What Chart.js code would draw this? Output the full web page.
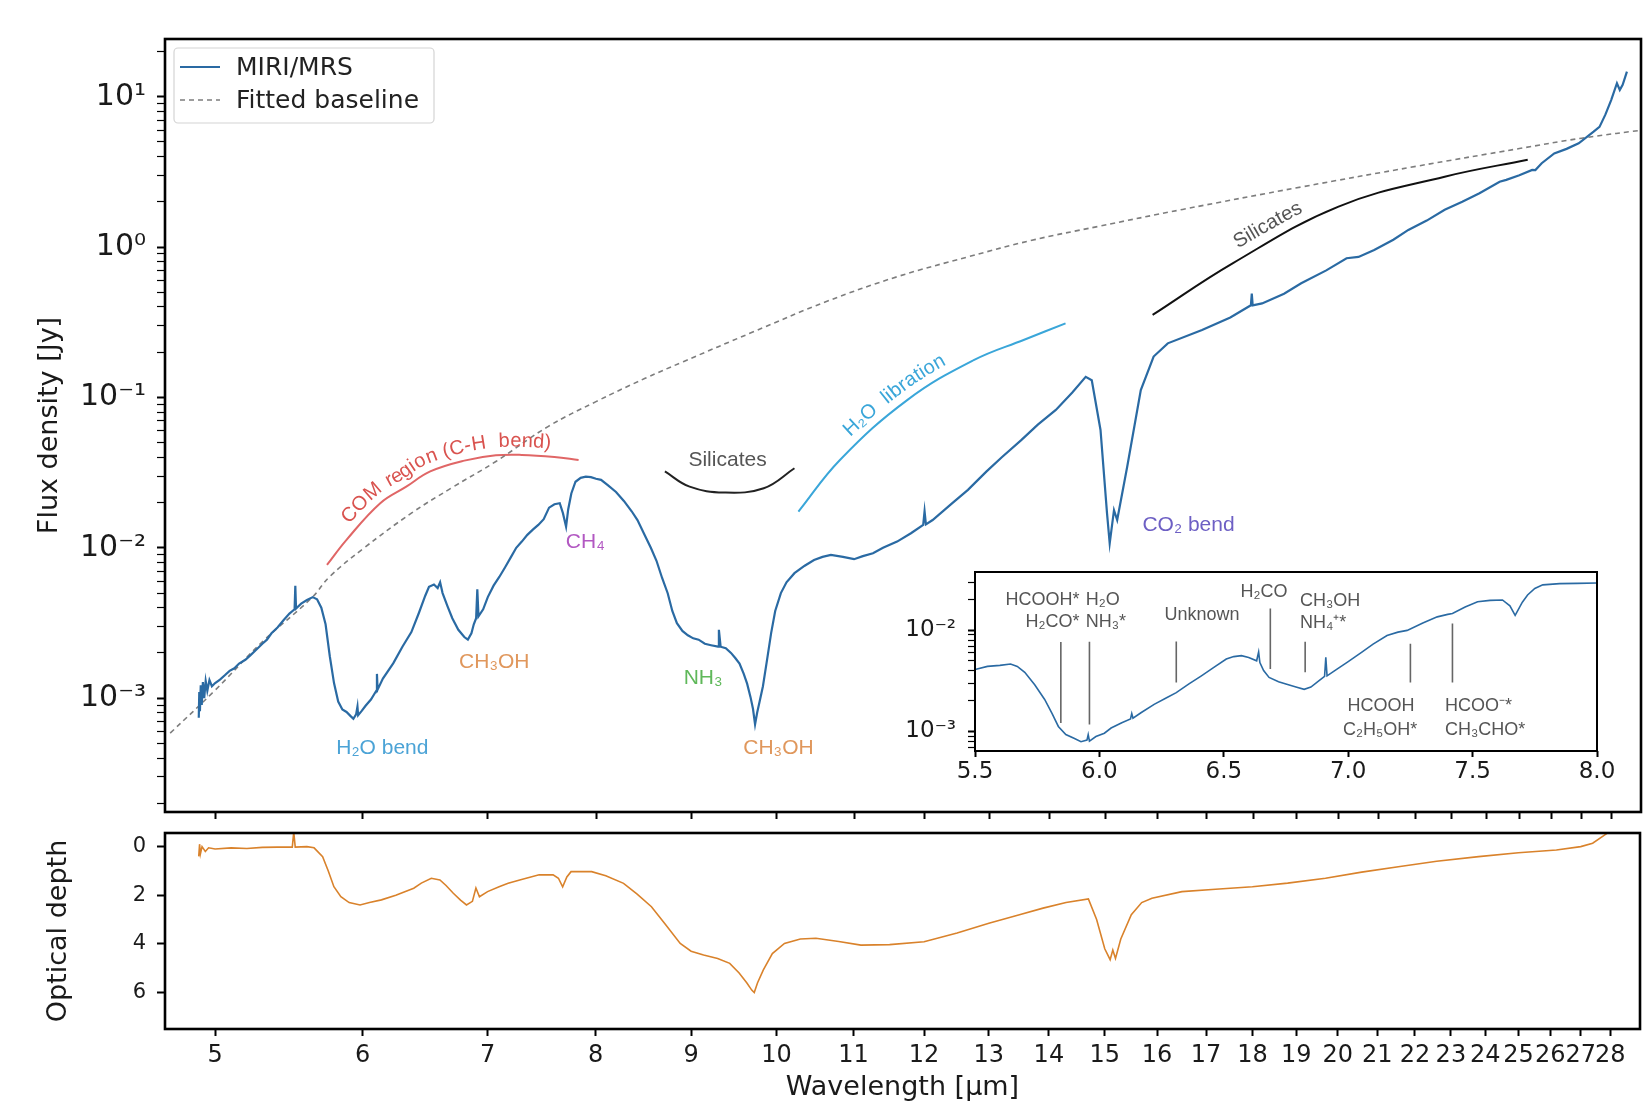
<!DOCTYPE html>
<html lang="en">
<head>
<meta charset="utf-8">
<title>MIRI/MRS spectrum</title>
<script src="https://cdn.jsdelivr.net/npm/chart.js@4.4.1/dist/chart.umd.min.js"></script>
<style>
    html, body { margin: 0; padding: 0; background: #fff; }
    #page { position: relative; width: 1647px; height: 1101px; overflow: hidden; }
    #page canvas { position: absolute; }
    #mainChart { left: 0; top: 0; }
    #depthChart { left: 0; top: 830px; }
    #insetChart { left: 860px; top: 556px; }
</style>
</head>
<body>
<div id="page">
    <canvas id="mainChart" width="1647" height="830"></canvas>
    <canvas id="depthChart" width="1647" height="271"></canvas>
    <canvas id="insetChart" width="760" height="250"></canvas>
</div>
<script>
// ---- Data ----

// Wavelength axis [um], shared by both panels
const xTickValues = [5, 6, 7, 8, 9, 10, 11, 12, 13, 14, 15, 16, 17, 18, 19, 20, 21, 22, 23, 24, 25, 26, 27, 28];
const depthTickValues = [0, 2, 4, 6];
const insetTickValues = [5.5, 6.0, 6.5, 7.0, 7.5, 8.0];

// MIRI/MRS spectrum, flux density [Jy]
const specWave = [4.900, 4.903, 4.907, 4.912, 4.918, 4.925, 4.933, 4.942, 4.952, 4.965, 4.98, 5.00, 5.03, 5.06, 5.09, 5.12, 5.15, 5.19, 5.22, 5.26,
    5.30, 5.33, 5.36, 5.40, 5.44, 5.48, 5.515, 5.52, 5.525, 5.56, 5.60, 5.64, 5.67, 5.70, 5.73, 5.76, 5.79, 5.82, 5.85, 5.88,
    5.91, 5.93, 5.95, 5.96, 5.965, 5.99, 6.02, 6.06, 6.10, 6.105, 6.11, 6.15, 6.23, 6.30, 6.37, 6.43, 6.48, 6.51, 6.55, 6.58,
    6.60, 6.62, 6.66, 6.70, 6.75, 6.80, 6.83, 6.86, 6.88, 6.90, 6.91, 6.92, 6.96, 7.00, 7.05, 7.10, 7.15, 7.20, 7.25, 7.30,
    7.35, 7.40, 7.45, 7.50, 7.55, 7.60, 7.65, 7.68, 7.71, 7.73, 7.76, 7.80, 7.85, 7.90, 7.95, 8.00, 8.05, 8.12, 8.20, 8.28,
    8.36, 8.42, 8.50, 8.56, 8.62, 8.68, 8.74, 8.79, 8.84, 8.90, 8.96, 9.02, 9.08, 9.15, 9.22, 9.30, 9.31, 9.33, 9.39, 9.45,
    9.50, 9.55, 9.60, 9.64, 9.68, 9.71, 9.735, 9.76, 9.79, 9.83, 9.88, 9.93, 9.98, 10.05, 10.12, 10.22, 10.35, 10.47, 10.58, 10.69,
    10.85, 11.00, 11.12, 11.26, 11.40, 11.60, 11.80, 11.98, 12.00, 12.02, 12.12, 12.40, 12.66, 12.95, 13.20, 13.52, 13.80, 14.11, 14.40, 14.64,
    14.75, 14.91, 15.03, 15.08, 15.16, 15.22, 15.41, 15.67, 15.92, 16.20, 16.90, 17.50, 17.95, 17.97, 17.99, 18.20, 18.70, 19.10, 19.70, 20.20,
    20.50, 20.90, 21.40, 21.80, 22.30, 22.80, 23.30, 23.80, 24.40, 24.60, 25.00, 25.40, 25.50, 25.70, 26.10, 26.50, 26.90, 27.40, 27.60, 27.80,
    28.00, 28.20, 28.30, 28.40, 28.55];
const specFlux = [7.4e-4, 1.1e-3, 8.2e-4, 1.22e-3, 9.0e-4, 1.28e-3, 1.0e-3, 1.3e-3, 1.12e-3, 1.32e-3, 1.2e-3, 1.26e-3, 1.33e-3, 1.42e-3, 1.52e-3, 1.58e-3, 1.7e-3, 1.8e-3, 1.92e-3, 2.1e-3,
    2.3e-3, 2.45e-3, 2.7e-3, 2.95e-3, 3.3e-3, 3.65e-3, 3.9e-3, 5.6e-3, 3.95e-3, 4.25e-3, 4.5e-3, 4.7e-3, 4.55e-3, 4.0e-3, 3.1e-3, 1.9e-3, 1.26e-3, 9.5e-4, 8.4e-4, 8.1e-4,
    7.6e-4, 7.3e-4, 7.8e-4, 8.8e-4, 7.7e-4, 8.2e-4, 8.9e-4, 9.8e-4, 1.12e-3, 1.45e-3, 1.14e-3, 1.35e-3, 1.71e-3, 2.2e-3, 2.75e-3, 3.7e-3, 4.8e-3, 5.5e-3, 5.7e-3, 5.4e-3,
    5.9e-3, 5.0e-3, 4.1e-3, 3.4e-3, 2.85e-3, 2.55e-3, 2.45e-3, 2.7e-3, 3.1e-3, 3.4e-3, 5.3e-3, 3.5e-3, 3.9e-3, 4.7e-3, 5.6e-3, 6.4e-3, 7.4e-3, 8.6e-3, 1.0e-2, 1.1e-2,
    1.22e-2, 1.32e-2, 1.42e-2, 1.55e-2, 1.85e-2, 1.95e-2, 1.98e-2, 1.7e-2, 1.38e-2, 1.8e-2, 2.3e-2, 2.75e-2, 2.92e-2, 2.97e-2, 2.95e-2, 2.88e-2, 2.83e-2, 2.6e-2, 2.35e-2, 2.05e-2,
    1.75e-2, 1.53e-2, 1.2e-2, 1.0e-2, 8.2e-3, 6.3e-3, 4.99e-3, 3.8e-3, 3.15e-3, 2.8e-3, 2.62e-3, 2.5e-3, 2.45e-3, 2.3e-3, 2.25e-3, 2.2e-3, 2.85e-3, 2.2e-3, 2.15e-3, 2.0e-3,
    1.85e-3, 1.7e-3, 1.45e-3, 1.25e-3, 1.02e-3, 8.5e-4, 6.7e-4, 8.0e-4, 9.5e-4, 1.2e-3, 1.8e-3, 2.71e-3, 3.8e-3, 5.0e-3, 5.9e-3, 6.78e-3, 7.6e-3, 8.3e-3, 8.7e-3, 8.97e-3,
    8.7e-3, 8.4e-3, 8.8e-3, 9.2e-3, 1.0e-2, 1.1e-2, 1.25e-2, 1.42e-2, 1.75e-2, 1.43e-2, 1.53e-2, 1.95e-2, 2.43e-2, 3.21e-2, 4.0e-2, 5.2e-2, 6.6e-2, 8.26e-2, 0.108, 0.137,
    0.13, 0.0608, 0.017, 0.0107, 0.0178, 0.0153, 0.0347, 0.112, 0.187, 0.229, 0.281, 0.34, 0.41, 0.49, 0.41, 0.422, 0.49, 0.574, 0.70, 0.843,
    0.86, 0.957, 1.12, 1.30, 1.50, 1.77, 2.0, 2.28, 2.72, 2.8, 3.0, 3.26, 3.25, 3.61, 4.2, 4.5, 4.9, 5.85, 6.3, 7.6,
    9.5, 12.3, 11.1, 12.0, 14.7];

// Fitted continuum baseline [Jy]
const baseWave = [4.73, 5.0, 5.3, 5.63, 5.76, 6.0, 6.37, 6.7, 7.07, 7.54, 8.0, 8.5, 8.91, 9.7, 10.63, 11.6, 12.67, 13.7, 14.86, 16.5, 19.1, 22.0, 25.0, 27.0, 29.4];
const baseFlux = [5.85e-4, 1.13e-3, 2.37e-3, 4.62e-3, 6.44e-3, 9.84e-3, 0.017, 0.0252, 0.0375, 0.064, 0.0938, 0.134, 0.173, 0.271, 0.434, 0.635, 0.863, 1.11, 1.37, 1.78, 2.51, 3.44, 4.52, 5.3, 6.1];

// Optical depth (lower panel)
const tauWave = [4.90, 4.905, 4.91, 4.92, 4.94, 4.96, 5.0, 5.1, 5.2, 5.3, 5.4, 5.5, 5.51, 5.52, 5.6, 5.65, 5.71, 5.75, 5.79, 5.84,
    5.9, 5.98, 6.05, 6.14, 6.25, 6.39, 6.45, 6.53, 6.58, 6.6, 6.65, 6.71, 6.77, 6.82, 6.87, 6.9, 6.93, 7.0, 7.1, 7.18,
    7.3, 7.46, 7.59, 7.64, 7.68, 7.72, 7.76, 7.96, 8.1, 8.28, 8.42, 8.57, 8.72, 8.88, 9.0, 9.14, 9.3, 9.44, 9.55, 9.64,
    9.70, 9.73, 9.77, 9.84, 9.95, 10.1, 10.3, 10.5, 10.8, 11.1, 11.5, 12.0, 12.5, 13.0, 13.5, 13.9, 14.3, 14.7, 14.85, 15.0,
    15.1, 15.15, 15.2, 15.3, 15.5, 15.7, 15.9, 16.5, 17.2, 18.0, 18.8, 19.7, 20.6, 21.6, 22.6, 23.8, 25.0, 26.2, 27.0, 27.4,
    27.9, 28.3];
const tauDepth = [0.4, -0.1, 0.3, 0.0, 0.2, 0.05, 0.1, 0.05, 0.08, 0.03, 0.02, 0.02, -0.6, 0.02, 0.0, 0.05, 0.41, 1.0, 1.65, 2.06,
    2.3, 2.4, 2.3, 2.19, 2.0, 1.71, 1.5, 1.3, 1.35, 1.37, 1.6, 1.92, 2.2, 2.4, 2.25, 1.7, 2.06, 1.85, 1.65, 1.51,
    1.35, 1.16, 1.16, 1.3, 1.65, 1.25, 1.03, 1.03, 1.2, 1.51, 1.95, 2.47, 3.2, 3.98, 4.3, 4.46, 4.6, 4.8, 5.2, 5.6,
    5.9, 6.0, 5.6, 5.07, 4.4, 3.98, 3.8, 3.77, 3.9, 4.05, 4.03, 3.91, 3.55, 3.15, 2.8, 2.53, 2.3, 2.15, 3.0, 4.2,
    4.65, 4.25, 4.6, 3.8, 2.8, 2.3, 2.12, 1.85, 1.75, 1.65, 1.5, 1.3, 1.05, 0.82, 0.6, 0.41, 0.25, 0.14, 0.0, -0.14,
    -0.55, -1.0];

// Inset: 5.5-8 um zoom of the spectrum [Jy]
const insetWave = [5.50, 5.55, 5.60, 5.643, 5.67, 5.70, 5.74, 5.78, 5.81, 5.835, 5.865, 5.90, 5.926, 5.95, 5.955, 5.96, 5.986, 6.02, 6.047, 6.09,
    6.125, 6.13, 6.135, 6.167, 6.22, 6.27, 6.309, 6.36, 6.41, 6.46, 6.51, 6.54, 6.571, 6.60, 6.632, 6.64, 6.645, 6.66, 6.682, 6.72,
    6.753, 6.79, 6.823, 6.85, 6.874, 6.905, 6.91, 6.915, 6.955, 7.00, 7.055, 7.10, 7.156, 7.20, 7.237, 7.30, 7.358, 7.40, 7.419, 7.47,
    7.52, 7.57, 7.62, 7.65, 7.671, 7.70, 7.721, 7.75, 7.782, 7.85, 7.92, 8.0];
const insetFlux = [4.1e-3, 4.4e-3, 4.5e-3, 4.65e-3, 4.4e-3, 3.84e-3, 2.9e-3, 2.07e-3, 1.5e-3, 1.12e-3, 9.3e-4, 8.5e-4, 7.9e-4, 8.2e-4, 9.3e-4, 8.0e-4, 8.9e-4, 9.6e-4, 1.08e-3, 1.22e-3,
    1.33e-3, 1.5e-3, 1.35e-3, 1.53e-3, 1.85e-3, 2.15e-3, 2.42e-3, 2.95e-3, 3.55e-3, 4.3e-3, 5.21e-3, 5.5e-3, 5.62e-3, 5.4e-3, 5.0e-3, 6.1e-3, 4.8e-3, 4.0e-3, 3.42e-3, 3.1e-3,
    2.93e-3, 2.75e-3, 2.61e-3, 2.75e-3, 3.05e-3, 3.5e-3, 5.4e-3, 3.55e-3, 4.14e-3, 4.9e-3, 6.08e-3, 7.3e-3, 8.9e-3, 9.6e-3, 1.0e-2, 1.18e-2, 1.36e-2, 1.44e-2, 1.47e-2, 1.7e-2,
    1.92e-2, 1.98e-2, 2.0e-2, 1.75e-2, 1.41e-2, 1.9e-2, 2.24e-2, 2.6e-2, 2.82e-2, 2.9e-2, 2.92e-2, 2.94e-2];

// Inset band markers (vertical lines)
const markerWave = [5.845, 5.96, 6.309, 6.687, 6.827, 7.25, 7.419];
const markerTop = [7.65e-3, 7.7e-3, 7.76e-3, 1.65e-2, 7.7e-3, 7.36e-3, 1.17e-2];
const markerBottom = [1.21e-3, 1.17e-3, 3.05e-3, 4.14e-3, 3.86e-3, 3.05e-3, 3.05e-3];

// Feature arcs drawn over the main panel
const comArcWave = [5.74, 5.88, 6.13, 6.33, 6.52, 6.8, 7.07, 7.3, 7.6, 7.83];
const comArcFlux = [0.0077, 0.0113, 0.0198, 0.0255, 0.0322, 0.038, 0.0412, 0.0415, 0.0402, 0.0384];
const silArc1Wave = [8.71, 8.98, 9.37, 9.84, 10.22];
const silArc1Flux = [0.0322, 0.0255, 0.0233, 0.0249, 0.0338];
const libArcWave = [10.27, 10.81, 11.75, 12.75, 13.57, 14.28];
const libArcFlux = [0.0174, 0.0384, 0.0964, 0.177, 0.242, 0.311];
const silArc2Wave = [15.9, 17.55, 20.0, 22.8, 25.26];
const silArc2Flux = [0.354, 0.78, 1.86, 2.94, 3.81];

// Band labels on the main panel
const bandText = ['H₂O bend', 'CH₃OH', 'CH₄', 'NH₃', 'CH₃OH', 'CO₂ bend', 'Silicates'];
const bandWave = [6.146, 7.056, 7.895, 9.13, 10.02, 16.62, 9.41];
const bandFlux = [4.68e-4, 1.74e-3, 1.09e-2, 1.36e-3, 4.68e-4, 1.42e-2, 3.84e-2];
const bandColor = ['#4ba3d6', '#e0975c', '#b258c2', '#5fb85a', '#e0975c', '#6d5fc4', '#555555'];

// Labels inside the inset
const insetText = ['HCOOH*', 'H₂CO*', 'H₂O', 'NH₃*', 'Unknown', 'H₂CO', 'CH₃OH', 'NH₄⁺*', 'HCOOH', 'C₂H₅OH*', 'HCOO⁻*', 'CH₃CHO*'];
const insetTextWave = [5.92, 5.92, 5.945, 5.945, 6.412, 6.662, 6.806, 6.806, 7.132, 7.128, 7.389, 7.389];
const insetTextFlux = [0.0198, 0.0121, 0.0200, 0.0121, 0.0141, 0.0242, 0.0194, 0.0117, 1.78e-3, 1.04e-3, 1.78e-3, 1.04e-3];
const insetTextAlign = ['right', 'right', 'left', 'left', 'center', 'center', 'left', 'left', 'center', 'center', 'left', 'left'];

// ---- Styling ----
const BLUE = '#2a6aa3';
const ORANGE = '#d9822b';
const AXIS_FONT = 'DejaVu Sans';
const NOTE_FONT = 'Liberation Sans';

Chart.defaults.font.family = AXIS_FONT;
Chart.defaults.color = '#1a1a1a';

function pairs(xs, ys) {
    return xs.map((x, i) => ({ x: x, y: ys[i] }));
}

function isDecade(v) {
    const l = Math.log10(v);
    return Math.abs(l - Math.round(l)) < 1e-6;
}

// 10^n written with unicode superscripts
function powerLabel(v) {
    if (!isDecade(v)) return '';
    const sup = { '-': '⁻', '0': '⁰', '1': '¹', '2': '²', '3': '³', '4': '⁴' };
    return '10' + String(Math.round(Math.log10(v))).split('').map(c => sup[c]).join('');
}

// decade and minor tick values between lo and hi
function logTickValues(lo, hi) {
    const out = [];
    for (let e = Math.floor(Math.log10(lo)); e <= Math.ceil(Math.log10(hi)); e++) {
        for (let m = 1; m <= 9; m++) {
            const v = m * Math.pow(10, e);
            if (v >= lo && v <= hi) out.push(v);
        }
    }
    return out;
}

function markerData() {
    const out = [];
    markerWave.forEach((w, i) => {
        out.push({ x: w, y: markerTop[i] }, { x: w, y: markerBottom[i] }, { x: w, y: null });
    });
    return out;
}

function lineSet(label, xs, ys, color, width, extra) {
    return Object.assign({
        label: label,
        data: pairs(xs, ys),
        borderColor: color,
        borderWidth: width,
        pointRadius: 0,
        fill: false,
        tension: 0
    }, extra || {});
}

// fix the size of an axis box so the plot area lands where the figure has it
function fixBox(prop, size) {
    return s => {
        s[prop] = size;
        s.paddingTop = 0;
        s.paddingBottom = 0;
        s.paddingLeft = 0;
        s.paddingRight = 0;
    };
}

// Box around the plotting area
const framePlugin = {
    id: 'frame',
    afterDraw(chart, args, opts) {
        const a = chart.chartArea;
        const ctx = chart.ctx;
        ctx.save();
        ctx.strokeStyle = '#000';
        ctx.lineWidth = opts.width || 2.5;
        ctx.strokeRect(a.left, a.top, a.right - a.left, a.bottom - a.top);
        ctx.restore();
    }
};

// Catmull-Rom resampling, so that text placed along an arc bends smoothly
function smoothPath(pts, n) {
    const out = [];
    for (let i = 0; i < pts.length - 1; i++) {
        const p0 = pts[Math.max(i - 1, 0)], p1 = pts[i], p2 = pts[i + 1], p3 = pts[Math.min(i + 2, pts.length - 1)];
        for (let k = 0; k < n; k++) {
            const t = k / n, t2 = t * t, t3 = t2 * t;
            const f = (a, b, c, d) => 0.5 * (2 * b + (-a + c) * t + (2 * a - 5 * b + 4 * c - d) * t2 + (-a + 3 * b - 3 * c + d) * t3);
            out.push({ x: f(p0.x, p1.x, p2.x, p3.x), y: f(p0.y, p1.y, p2.y, p3.y) });
        }
    }
    out.push(pts[pts.length - 1]);
    return out;
}

// Writes text along a pixel path, centred at x = centerX, lifted by offset
function textAlongPath(ctx, rough, text, centerX, offset) {
    const pts = smoothPath(rough, 16);
    const cum = [0];
    for (let i = 1; i < pts.length; i++) {
        cum.push(cum[i - 1] + Math.hypot(pts[i].x - pts[i - 1].x, pts[i].y - pts[i - 1].y));
    }
    function at(s) {
        let i = 1;
        while (i < pts.length - 1 && cum[i] < s) i++;
        const dx = pts[i].x - pts[i - 1].x;
        const dy = pts[i].y - pts[i - 1].y;
        const t = (s - cum[i - 1]) / (cum[i] - cum[i - 1] || 1);
        return { x: pts[i - 1].x + t * dx, y: pts[i - 1].y + t * dy, a: Math.atan2(dy, dx) };
    }
    let s0 = cum[cum.length - 1] / 2;
    for (let i = 1; i < pts.length; i++) {
        if (pts[i].x >= centerX) {
            s0 = cum[i - 1] + (centerX - pts[i - 1].x) / (pts[i].x - pts[i - 1].x) * (cum[i] - cum[i - 1]);
            break;
        }
    }
    let s = s0 - ctx.measureText(text).width / 2;
    for (const ch of text) {
        const w = ctx.measureText(ch).width;
        const p = at(s + w / 2);
        ctx.save();
        ctx.translate(p.x + Math.sin(p.a) * offset, p.y - Math.cos(p.a) * offset);
        ctx.rotate(p.a);
        ctx.fillText(ch, -w / 2, 0);
        ctx.restore();
        s += w;
    }
}

function toPixels(chart, xs, ys) {
    const sx = chart.scales.x;
    const sy = chart.scales.y;
    return xs.map((x, i) => ({ x: sx.getPixelForValue(x), y: sy.getPixelForValue(ys[i]) }));
}

// Band labels, arc labels and the legend of the main panel
const mainNotesPlugin = {
    id: 'mainNotes',
    afterDatasetsDraw(chart) {
        const ctx = chart.ctx;
        const sx = chart.scales.x;
        const sy = chart.scales.y;
        ctx.save();
        ctx.font = '21px "' + NOTE_FONT + '"';
        ctx.textAlign = 'center';
        ctx.textBaseline = 'middle';
        bandText.forEach((t, i) => {
            ctx.fillStyle = bandColor[i];
            ctx.fillText(t, sx.getPixelForValue(bandWave[i]), sy.getPixelForValue(bandFlux[i]));
        });

        ctx.textAlign = 'left';
        ctx.textBaseline = 'alphabetic';
        ctx.font = '20px "' + NOTE_FONT + '"';
        ctx.fillStyle = '#d9534f';
        textAlongPath(ctx, toPixels(chart, comArcWave, comArcFlux), 'COM region (C-H  bend)', sx.getPixelForValue(6.62), 8);
        ctx.fillStyle = '#3aa6d9';
        textAlongPath(ctx, toPixels(chart, libArcWave, libArcFlux), 'H₂O  libration', sx.getPixelForValue(11.66), 9);
        ctx.fillStyle = '#555555';
        textAlongPath(ctx, toPixels(chart, silArc2Wave, silArc2Flux), 'Silicates', sx.getPixelForValue(18.5), 10);
        ctx.restore();

        drawLegend(chart);
    }
};

function drawLegend(chart) {
    const ctx = chart.ctx;
    const a = chart.chartArea;
    const sets = chart.data.datasets;
    const x = a.left + 9;
    const y = a.top + 9;
    ctx.save();
    ctx.fillStyle = 'rgba(255,255,255,0.9)';
    ctx.strokeStyle = '#d4d4d4';
    ctx.lineWidth = 1.2;
    ctx.beginPath();
    ctx.roundRect(x, y, 260, 75, 4);
    ctx.fill();
    ctx.stroke();

    [0, 1].forEach((k, row) => {
        const ly = a.top + 28 + row * 33;
        ctx.strokeStyle = sets[k].borderColor;
        ctx.lineWidth = sets[k].borderWidth;
        ctx.setLineDash(sets[k].borderDash || []);
        ctx.beginPath();
        ctx.moveTo(a.left + 15, ly);
        ctx.lineTo(a.left + 55, ly);
        ctx.stroke();
        ctx.setLineDash([]);
        ctx.fillStyle = '#222';
        ctx.font = '25px "' + AXIS_FONT + '"';
        ctx.textBaseline = 'middle';
        ctx.fillText(sets[k].label, a.left + 71, ly + 1);
    });
    ctx.restore();
}

// Labels inside the inset
const insetNotesPlugin = {
    id: 'insetNotes',
    afterDatasetsDraw(chart) {
        const ctx = chart.ctx;
        const sx = chart.scales.x;
        const sy = chart.scales.y;
        ctx.save();
        ctx.font = '18px "' + NOTE_FONT + '"';
        ctx.fillStyle = '#555';
        ctx.textBaseline = 'middle';
        insetText.forEach((t, i) => {
            ctx.textAlign = insetTextAlign[i];
            ctx.fillText(t, sx.getPixelForValue(insetTextWave[i]), sy.getPixelForValue(insetTextFlux[i]));
        });
        ctx.restore();
    }
};

function tickGrid(len) {
    return {
        drawOnChartArea: false,
        drawTicks: true,
        tickLength: len,
        tickColor: '#000',
        tickWidth: ctx => (ctx.tick && !isDecade(ctx.tick.value) ? 1.2 : 2)
    };
}

function wavelengthAxis(showLabels, height) {
    return {
        type: 'logarithmic',
        min: 4.70,
        max: 29.05,
        bounds: 'data',
        afterBuildTicks: s => { s.ticks = xTickValues.map(v => ({ value: v })); },
        afterFit: fixBox('height', height),
        border: { display: false },
        grid: { drawOnChartArea: false, drawTicks: true, tickLength: 7, tickWidth: 2, tickColor: '#000' },
        ticks: {
            display: showLabels,
            autoSkip: false,
            minRotation: 0,
            maxRotation: 0,
            padding: 5,
            font: { size: 24 },
            callback: v => String(v)
        }
    };
}

// ---- Main panel ----
const mainChart = new Chart(document.getElementById('mainChart'), {
    type: 'line',
    data: {
        datasets: [
            lineSet('MIRI/MRS', specWave, specFlux, BLUE, 2.2),
            lineSet('Fitted baseline', baseWave, baseFlux, '#7d7d7d', 1.6, { borderDash: [5, 4], tension: 0.4 }),
            lineSet('COM arc', comArcWave, comArcFlux, '#e06666', 2, { tension: 0.4 }),
            lineSet('Silicate arc 1', silArc1Wave, silArc1Flux, '#222', 2, { tension: 0.4 }),
            lineSet('H2O libration arc', libArcWave, libArcFlux, '#3aa6d9', 2, { tension: 0.4 }),
            lineSet('Silicate arc 2', silArc2Wave, silArc2Flux, '#111', 2, { tension: 0.4 })
        ]
    },
    options: {
        responsive: false,
        animation: false,
        layout: { padding: { top: 39, right: 6, left: 0, bottom: 0 } },
        plugins: {
            legend: { display: false },
            tooltip: { enabled: false },
            frame: { width: 2.6 }
        },
        scales: {
            x: wavelengthAxis(false, 18),
            y: {
                type: 'logarithmic',
                min: 1.75e-4,
                max: 24.2,
                bounds: 'data',
                afterBuildTicks: s => { s.ticks = logTickValues(1.75e-4, 24.2).map(v => ({ value: v })); },
                afterFit: fixBox('width', 165),
                border: { display: false },
                grid: tickGrid(8),
                ticks: { autoSkip: false, padding: 11, font: { size: 30 }, callback: v => powerLabel(v) },
                title: {
                    display: true,
                    text: 'Flux density [Jy]',
                    font: { size: 27 },
                    padding: { top: 34, bottom: 0 }
                }
            }
        }
    },
    plugins: [framePlugin, mainNotesPlugin]
});

// ---- Optical depth panel ----
const depthAxisX = wavelengthAxis(true, 72);
depthAxisX.title = {
    display: true,
    text: 'Wavelength [μm]',
    font: { size: 27 },
    padding: { top: 0, bottom: -3 }
};

const depthChart = new Chart(document.getElementById('depthChart'), {
    type: 'line',
    data: {
        datasets: [lineSet('Optical depth', tauWave, tauDepth, ORANGE, 1.6)]
    },
    options: {
        responsive: false,
        animation: false,
        layout: { padding: { top: 3, right: 7, left: 0, bottom: 0 } },
        plugins: {
            legend: { display: false },
            tooltip: { enabled: false },
            frame: { width: 2.6 }
        },
        scales: {
            x: depthAxisX,
            y: {
                type: 'linear',
                reverse: true,
                min: -0.56,
                max: 7.5,
                bounds: 'data',
                afterBuildTicks: s => { s.ticks = depthTickValues.map(v => ({ value: v })); },
                afterFit: fixBox('width', 165),
                border: { display: false },
                grid: { drawOnChartArea: false, tickLength: 8, tickWidth: 2, tickColor: '#000' },
                ticks: { autoSkip: false, padding: 11, font: { size: 21 } },
                title: {
                    display: true,
                    text: 'Optical depth',
                    font: { size: 27 },
                    padding: { top: 43, bottom: 0 }
                }
            }
        }
    },
    plugins: [framePlugin]
});

// ---- Inset ----
const insetChart = new Chart(document.getElementById('insetChart'), {
    type: 'line',
    data: {
        datasets: [
            lineSet('Inset spectrum', insetWave, insetFlux, BLUE, 1.6),
            { label: 'Markers', data: markerData(), borderColor: '#666', borderWidth: 1.6, pointRadius: 0, spanGaps: false }
        ]
    },
    options: {
        responsive: false,
        animation: false,
        layout: { padding: { top: 16, right: 23, left: 0, bottom: 0 } },
        plugins: {
            legend: { display: false },
            tooltip: { enabled: false },
            frame: { width: 2 }
        },
        scales: {
            x: {
                type: 'linear',
                min: 5.5,
                max: 8.0,
                bounds: 'data',
                afterBuildTicks: s => { s.ticks = insetTickValues.map(v => ({ value: v })); },
                afterFit: fixBox('height', 55),
                border: { display: false },
                grid: { drawOnChartArea: false, tickLength: 6, tickWidth: 2, tickColor: '#000' },
                ticks: { autoSkip: false, maxRotation: 0, padding: 1, font: { size: 23 }, callback: v => v.toFixed(1) }
            },
            y: {
                type: 'logarithmic',
                min: 6.4e-4,
                max: 0.0378,
                bounds: 'data',
                afterBuildTicks: s => { s.ticks = logTickValues(6.4e-4, 0.0378).map(v => ({ value: v })); },
                afterFit: fixBox('width', 115),
                border: { display: false },
                grid: tickGrid(7),
                ticks: { autoSkip: false, padding: 12, font: { size: 23 }, callback: v => powerLabel(v) }
            }
        }
    },
    plugins: [framePlugin, insetNotesPlugin]
});
</script>
</body>
</html>
